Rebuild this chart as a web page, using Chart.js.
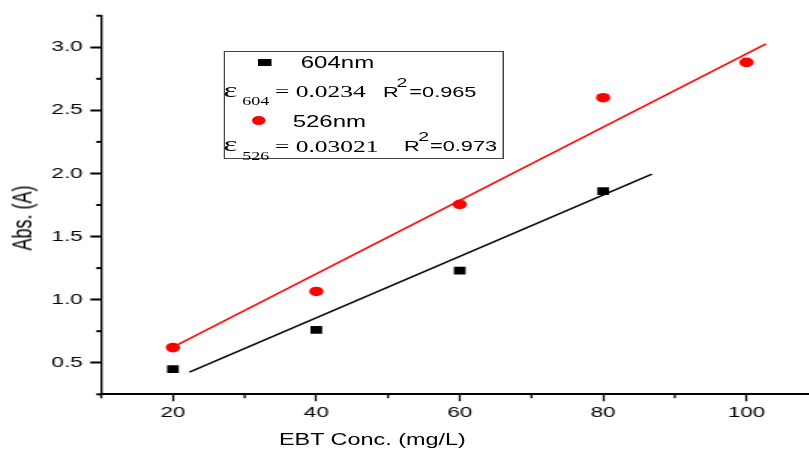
<!DOCTYPE html>
<html>
<head>
<meta charset="utf-8">
<script src="https://cdn.jsdelivr.net/npm/chart.js@4.4.4/dist/chart.umd.min.js"></script>
<style>
  html, body { margin: 0; padding: 0; background: #fff; }
  #clip { position: relative; width: 809px; height: 452px; overflow: hidden; }
  /* the reference is a horizontally stretched plot, so the whole stage is stretched */
  #stage { position: absolute; left: 0; top: 0; width: 551px; height: 452px;
           transform: scaleX(1.5); transform-origin: 0 0; }
  #stage span, #stage div.t { position: absolute; white-space: nowrap; line-height: 1; color: #000; }
  .sans { font-family: "Liberation Sans", Arial, sans-serif; }
  .serif { font-family: "Liberation Serif", "Times New Roman", serif; }
  #legendBox { position: absolute; left: 149.3px; top: 51px; width: 187px; height: 108px;
               border: 1px solid #444; box-sizing: border-box; }
</style>
</head>
<body>
<div id="clip">
  <div id="stage">
    <canvas id="chart" width="551" height="452"></canvas>

    <div class="t sans" id="yTitle" style="font-size:18px;left:15.3px;top:217.5px;transform:translate(-50%,-50%) rotate(-90deg);">Abs. (A)</div>
    <div class="t sans" style="font-size:15.6px;left:186px;top:432px;">EBT Conc. (mg/L)</div>

    <div id="legendBox"></div>
    <!-- row 1 -->
    <span style="left:172.2px;top:59px;width:8.5px;height:7px;background:#000;"></span>
    <span class="sans" style="font-size:16px;left:200.5px;top:54.8px;">604nm</span>
    <!-- row 2 -->
    <span class="serif" style="font-size:22px;left:149px;top:78.9px;">ε</span>
    <span class="serif" style="font-size:12px;left:161.5px;top:95px;">604</span>
    <span class="serif" style="font-size:17px;left:183.3px;top:83.1px;">= 0.0234</span>
    <span class="sans" style="font-size:14.5px;left:255.3px;top:85px;">R</span>
    <span class="sans" style="font-size:13px;left:264.4px;top:75.5px;">2</span>
    <span class="sans" style="font-size:14.5px;left:272.9px;top:85px;">=0.965</span>
    <!-- row 3 -->
    <span style="left:168px;top:116px;width:9px;height:9px;border-radius:50%;background:#ff0000;"></span>
    <span class="sans" style="font-size:16px;left:195.1px;top:113.8px;">526nm</span>
    <!-- row 4 -->
    <span class="serif" style="font-size:22px;left:149px;top:133.3px;">ε</span>
    <span class="serif" style="font-size:12px;left:161.5px;top:149.5px;">526</span>
    <span class="serif" style="font-size:17px;left:183.3px;top:137.5px;">= 0.03021</span>
    <span class="sans" style="font-size:14.5px;left:269.3px;top:139.4px;">R</span>
    <span class="sans" style="font-size:13px;left:278.9px;top:129.9px;">2</span>
    <span class="sans" style="font-size:14.5px;left:286.7px;top:139.4px;">=0.973</span>
  </div>
</div>

<script>
// measured values (EBT concentration in mg/L vs absorbance)
const conc604 = [20, 40, 60, 80];
const abs604 = [0.45, 0.76, 1.23, 1.86];
const conc526 = [20, 40, 60, 80, 100];
const abs526 = [0.62, 1.065, 1.755, 2.60, 2.88];

// fitted lines, end points as drawn
const fit604X = [22.3, 86.8];
const fit604Y = [0.425, 1.994];
const fit526X = [20, 102.7];
const fit526Y = [0.624, 3.026];

// ticks
const xMajorTicks = [20, 40, 60, 80, 100];
const xMinorTicks = [10, 30, 50, 70, 90];
const yMajorTicks = [0.5, 1.0, 1.5, 2.0, 2.5, 3.0];
const yMinorTicks = [0.25, 0.75, 1.25, 1.75, 2.25, 2.75, 3.25];

const pts = (xs, ys) => xs.map((x, i) => ({ x, y: ys[i] }));

const minorTicks = {
  id: "minorTicks",
  afterDraw(chart) {
    const { ctx, chartArea } = chart;
    const xs = chart.scales.x;
    const ys = chart.scales.y;
    ctx.save();
    ctx.strokeStyle = "#000";
    ctx.lineWidth = 1.33;
    xMinorTicks.forEach((v) => {
      const px = xs.getPixelForValue(v);
      ctx.beginPath();
      ctx.moveTo(px, chartArea.bottom);
      ctx.lineTo(px, chartArea.bottom + 4);
      ctx.stroke();
    });
    ctx.lineWidth = 2;
    yMinorTicks.forEach((v) => {
      const py = ys.getPixelForValue(v);
      ctx.beginPath();
      ctx.moveTo(chartArea.left - 3.3, py);
      ctx.lineTo(chartArea.left, py);
      ctx.stroke();
    });
    ctx.restore();
  },
};

const tickFont = { family: "Liberation Sans", size: 15 };

new Chart(document.getElementById("chart"), {
  type: "scatter",
  data: {
    datasets: [
      {
        label: "604nm fit",
        data: pts(fit604X, fit604Y),
        showLine: true,
        borderColor: "#000",
        borderWidth: 1.5,
        pointRadius: 0,
      },
      {
        label: "526nm fit",
        data: pts(fit526X, fit526Y),
        showLine: true,
        borderColor: "#ff0000",
        borderWidth: 1.5,
        pointRadius: 0,
      },
      {
        label: "604nm",
        data: pts(conc604, abs604),
        pointStyle: "rect",
        pointRadius: 5.5,
        pointBackgroundColor: "#000",
        pointBorderWidth: 0,
      },
      {
        label: "526nm",
        data: pts(conc526, abs526),
        pointStyle: "circle",
        pointRadius: 4.8,
        pointBackgroundColor: "#ff0000",
        pointBorderWidth: 0,
      },
    ],
  },
  options: {
    responsive: false,
    animation: false,
    layout: { padding: { top: 15.7, right: 0.5, left: 0, bottom: 0 } },
    plugins: { legend: { display: false }, tooltip: { enabled: false } },
    scales: {
      x: {
        type: "linear",
        min: 10,
        max: 110,
        border: { color: "#000", width: 2 },
        grid: { drawOnChartArea: false, tickLength: 7, tickColor: "#000", tickWidth: 1.33 },
        ticks: { color: "#000", font: tickFont, padding: 3, maxRotation: 0 },
        afterBuildTicks: (scale) => { scale.ticks = xMajorTicks.map((v) => ({ value: v })); },
        afterFit: (scale) => { scale.height = 57.7; },
      },
      y: {
        min: 0.25,
        max: 3.25,
        border: { color: "#000", width: 1.35 },
        grid: { drawOnChartArea: false, tickLength: 7.3, tickColor: "#000", tickWidth: 2 },
        ticks: { color: "#000", font: tickFont, padding: 5, callback: (v) => v.toFixed(1) },
        afterBuildTicks: (scale) => { scale.ticks = yMajorTicks.map((v) => ({ value: v })); },
        afterFit: (scale) => { scale.width = 67.5; },
      },
    },
  },
  plugins: [minorTicks],
});
</script>
</body>
</html>
